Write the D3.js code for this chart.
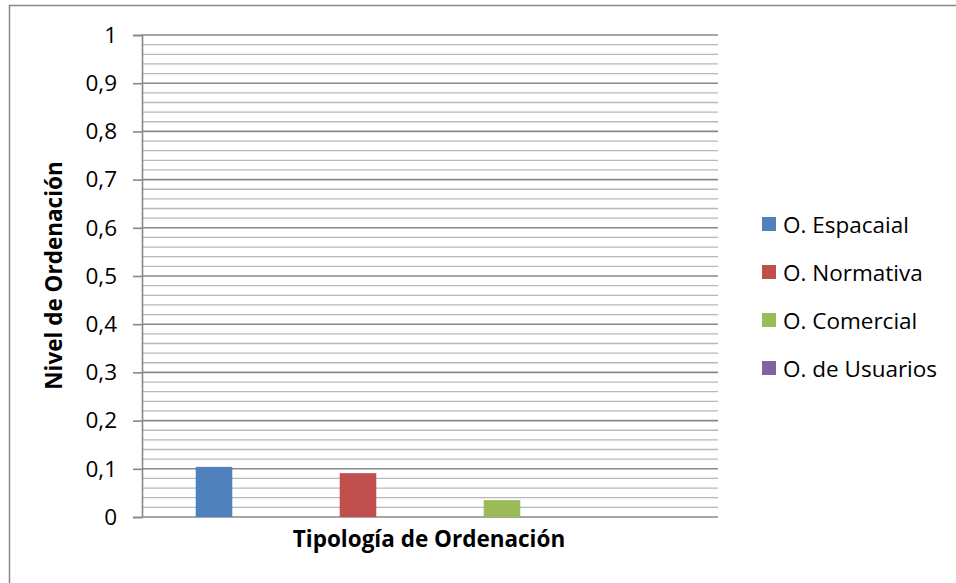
<!DOCTYPE html>
<html><head><meta charset="utf-8">
<script src="https://cdn.jsdelivr.net/npm/d3@7"></script>
<style>body{margin:0;background:#fff;} svg{display:block;}</style>
</head><body>
<script>
const series = ["O. Espacaial", "O. Normativa", "O. Comercial", "O. de Usuarios"];
const values = [0.104, 0.091, 0.035, 0];
const colors = ["#4f81bd", "#c0504d", "#9bbb59", "#8064a2"];
const majorTicks = [0, 0.1, 0.2, 0.3, 0.4, 0.5, 0.6, 0.7, 0.8, 0.9, 1];
const minorTicks = d3.range(0, 51).map(i => i / 50);
const yTitle = "Nivel de Ordenación";
const xTitle = "Tipología de Ordenación";

const W = 956, H = 583;
const font = "'Open Sans', sans-serif";
const fs = 22.5;
const svg = d3.select("body").append("svg").attr("width", W).attr("height", H);

svg.append("rect").attr("x", 9.5).attr("y", 5.5).attr("width", W).attr("height", H)
  .attr("fill", "none").attr("stroke", "#898989").attr("stroke-width", 1.5);

const pLeft = 142, pRight = 718, pTop = 35, pBottom = 517;
const y = d3.scaleLinear().domain([0, 1]).range([pBottom, pTop]);
const x = d3.scaleBand().domain(series).range([pLeft, pRight]).paddingInner(0.746).paddingOuter(0.373);

// minor gridlines
svg.append("g").selectAll("line").data(minorTicks.filter(v => Math.round(v * 50) % 5 !== 0)).join("line")
  .attr("x1", pLeft).attr("x2", pRight).attr("y1", d => y(d)).attr("y2", d => y(d))
  .attr("stroke", "#b8b8b8").attr("stroke-width", 1.3);

// major gridlines
svg.append("g").selectAll("line").data(majorTicks).join("line")
  .attr("x1", pLeft).attr("x2", pRight).attr("y1", d => y(d)).attr("y2", d => y(d))
  .attr("stroke", "#888").attr("stroke-width", 1.6);

// y axis
const yAxis = d3.axisLeft(y).tickValues(majorTicks).tickSize(9).tickPadding(16)
  .tickFormat(d => d === 0 ? "0" : d === 1 ? "1" : d3.format(".1f")(d).replace(".", ","));
const ga = svg.append("g").attr("transform", `translate(${pLeft},0)`).call(yAxis);
ga.select(".domain").attr("stroke", "#888").attr("stroke-width", 1.6);
ga.selectAll(".tick line").attr("stroke", "#888").attr("stroke-width", 1.6);
ga.selectAll("text").attr("font-family", font).attr("font-size", fs).attr("fill", "#000");

// bars
svg.append("g").selectAll("rect").data(series).join("rect")
  .attr("x", d => x(d)).attr("width", x.bandwidth())
  .attr("y", (d, i) => y(values[i])).attr("height", (d, i) => y(0) - y(values[i]))
  .attr("fill", (d, i) => colors[i]);

// titles
svg.append("text").attr("transform", `translate(62,275.5) rotate(-90)`)
  .attr("text-anchor", "middle").attr("font-family", font).attr("font-weight", "bold")
  .attr("font-size", fs).text(yTitle);
svg.append("text").attr("x", 429).attr("y", 547)
  .attr("text-anchor", "middle").attr("font-family", font).attr("font-weight", "bold")
  .attr("font-size", fs).text(xTitle);

// legend
const lg = svg.append("g").selectAll("g").data(series).join("g")
  .attr("transform", (d, i) => `translate(762,${217 + i * 48})`);
lg.append("rect").attr("x", 0).attr("y", 0).attr("width", 14).attr("height", 14)
  .attr("fill", (d, i) => colors[i]);
lg.append("text").attr("x", 21).attr("y", 16)
  .attr("font-family", font).attr("font-size", fs).text(d => d);
</script>
</body></html>
